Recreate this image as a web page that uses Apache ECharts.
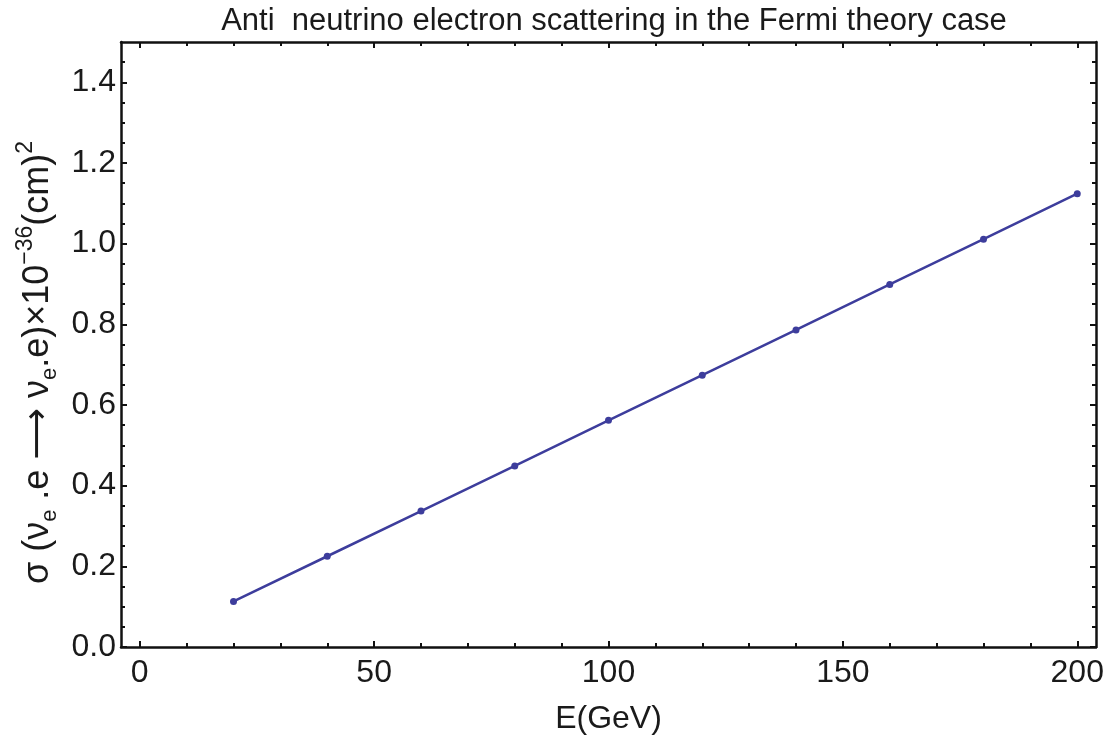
<!DOCTYPE html>
<html>
<head>
<meta charset="utf-8">
<script src="https://cdn.jsdelivr.net/npm/echarts@6/dist/echarts.min.js"></script>
<style>
  html, body { margin: 0; padding: 0; background: #fff; }
  #chart { width: 1111px; height: 741px; }
</style>
</head>
<body>
<div id="chart"></div>
<script>
// energies (GeV) and cross sections (x 10^-36 cm^2)
const energies = [20, 40, 60, 80, 100, 120, 140, 160, 180, 200];
const sigma = [0.113, 0.225, 0.337, 0.449, 0.562, 0.674, 0.786, 0.899, 1.011, 1.124];
const xMajor = [0, 50, 100, 150, 200];
const xMinor = [10, 20, 30, 40, 60, 70, 80, 90, 110, 120, 130, 140, 160, 170, 180, 190];
const yMajor = [0, 0.2, 0.4, 0.6, 0.8, 1.0, 1.2, 1.4];
const yMinor = [0.05, 0.1, 0.15, 0.25, 0.3, 0.35, 0.45, 0.5, 0.55, 0.65, 0.7, 0.75,
  0.85, 0.9, 0.95, 1.05, 1.1, 1.15, 1.25, 1.3, 1.35, 1.45];

const chart = echarts.init(document.getElementById("chart"));
const font = "Liberation Sans, Arial, sans-serif";
const xMin = -4, xMax = 204, yMin = 0, yMax = 1.5;

// one helper for the frame axes, main ones carry labels
function xAx(pos, ticks, len, labels, showLine) {
  return {
    type: "value", position: pos, min: xMin, max: xMax,
    axisLine: { show: showLine, onZero: false, lineStyle: { color: "#111", width: 2.5 } },
    axisTick: { show: true, inside: true, length: len, customValues: ticks,
      lineStyle: { color: "#111", width: 2 } },
    axisLabel: { show: labels, customValues: ticks, color: "#1a1a1a", fontSize: 32,
      fontFamily: font, margin: 10 },
    splitLine: { show: false },
  };
}
function yAx(pos, ticks, len, labels, showLine) {
  return {
    type: "value", position: pos, min: yMin, max: yMax,
    axisLine: { show: showLine, onZero: false, lineStyle: { color: "#111", width: 2.5 } },
    axisTick: { show: true, inside: true, length: len, customValues: ticks,
      lineStyle: { color: "#111", width: 2 } },
    axisLabel: { show: labels, customValues: ticks, color: "#1a1a1a", fontSize: 32,
      fontFamily: font, margin: 5, formatter: (v) => v.toFixed(1) },
    splitLine: { show: false },
  };
}

const xMain = xAx("bottom", xMajor, 6, true, true);
xMain.name = "E(GeV)";
xMain.nameLocation = "middle";
xMain.nameGap = 56;
xMain.nameTextStyle = { color: "#1a1a1a", fontSize: 32, fontFamily: font };

const yMain = yAx("left", yMajor, 6, true, true);
yMain.name = "{a|σ (ν}{s|e}{a| .e ⟶ ν}{s|e}{a|.e)×10}{p|−36}{a|(cm)}{p|2}";
yMain.nameLocation = "middle";
yMain.nameGap = 60;
yMain.nameTextStyle = {
  color: "#1a1a1a", fontFamily: font,
  padding: [0, 36, 0, 0],
  rich: {
    a: { fontSize: 36, lineHeight: 46, fontFamily: "Liberation Sans, DejaVu Sans, sans-serif", color: "#1a1a1a" },
    s: { fontSize: 22, lineHeight: 22, verticalAlign: "bottom", fontFamily: font, color: "#1a1a1a" },
    p: { fontSize: 23, lineHeight: 23, verticalAlign: "top", fontFamily: font, color: "#1a1a1a" },
  },
};

const option = {
  backgroundColor: "#fff",
  animation: false,
  title: {
    text: "Anti  neutrino electron scattering in the Fermi theory case",
    left: 609, top: 1, textAlign: "center",
    textStyle: { color: "#1a1a1a", fontSize: 31, fontWeight: "normal", fontFamily: font },
  },
  grid: { left: 121, right: 15, top: 42, bottom: 94 },
  xAxis: [
    xMain,
    xAx("bottom", xMinor, 4, false, false),
    xAx("top", xMajor, 6, false, true),
    xAx("top", xMinor, 4, false, false),
  ],
  yAxis: [
    yMain,
    yAx("left", yMinor, 4, false, false),
    yAx("right", yMajor, 6, false, true),
    yAx("right", yMinor, 4, false, false),
  ],
  series: [
    {
      type: "line",
      data: energies.map((e, i) => [e, sigma[i]]),
      symbol: "circle",
      symbolSize: 7,
      lineStyle: { color: "#3d3d9c", width: 2.5 },
      itemStyle: { color: "#3d3d9c" },
    },
  ],
};
chart.setOption(option);
</script>
</body>
</html>
